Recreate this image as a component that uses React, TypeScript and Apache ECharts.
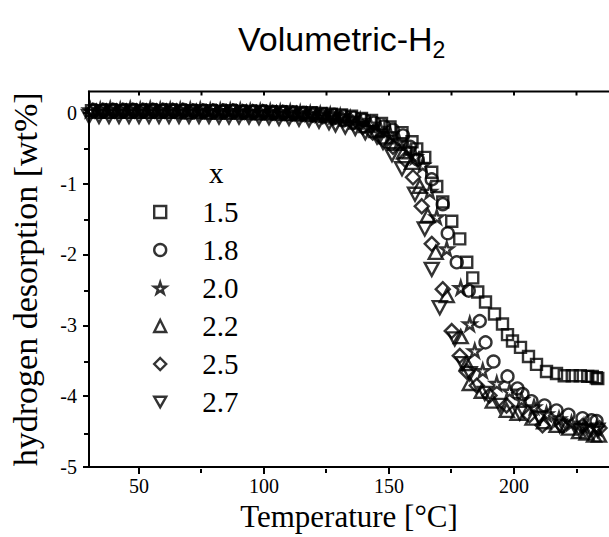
import React, { useEffect, useRef } from 'react';
import * as echarts from 'echarts';

const seriesNames = ['1.5', '1.8', '2.0', '2.2', '2.5', '2.7'];
const legendTitle = 'x';
const xMajorTicks = [50, 100, 150, 200];
const xMinorTicks = [75, 125, 175, 225];
const xTopTicks = [50, 75, 100, 125, 150, 175, 200, 225];
const yMajorTicks = [-5, -4, -3, -2, -1, 0];
const yMinorTicks = [-4.5, -3.5, -2.5, -1.5, -0.5];
const xMin = 30;
const xMax = 238;
const yMin = -5;
const yTop = 0.3;

const x15: [number, number][] = [
  [31, 0.03], [35, 0.03], [39, 0.04], [43, 0.03], [47, 0.04], [51, 0.03], [55, 0.04], [59, 0.03], [63, 0.04], [67, 0.03],
  [71, 0.03], [75, 0.03], [79, 0.03], [83, 0.02], [87, 0.03], [91, 0.02], [95, 0.02], [99, 0.02], [103, 0.01], [107, 0.01],
  [111, 0.01], [115, 0.0], [119, 0.0], [123, -0.01], [127, -0.02], [131, -0.03], [135, -0.05], [139, -0.08], [143, -0.11], [147, -0.15],
  [150.4, -0.2], [155.2, -0.28], [159.2, -0.41], [161.1, -0.51], [164.3, -0.63], [167.1, -0.84], [169.1, -1.04], [171.5, -1.26], [175.1, -1.53], [178.3, -1.78],
  [181.1, -2.11], [183.5, -2.33], [185.5, -2.53], [188.6, -2.67], [192.2, -2.84], [195.4, -2.98], [197.4, -3.13], [199.4, -3.22], [202.6, -3.31], [205.8, -3.44],
  [209, -3.55], [213, -3.65], [217, -3.68], [220.1, -3.71], [223.3, -3.71], [226.5, -3.71], [229.5, -3.72], [231.3, -3.72], [232.9, -3.74], [233.5, -3.75],
];

const x18: [number, number][] = [
  [32, 0.04], [36, 0.04], [40, 0.04], [44, 0.04], [48, 0.04], [52, 0.04], [56, 0.04], [60, 0.04], [64, 0.03], [68, 0.04],
  [72, 0.03], [76, 0.03], [80, 0.03], [84, 0.03], [88, 0.03], [92, 0.02], [96, 0.02], [100, 0.02], [104, 0.01], [108, 0.01],
  [112, 0.0], [116, 0.0], [120, -0.01], [124, -0.02], [128, -0.03], [132, -0.05], [136, -0.07], [140, -0.1], [144, -0.14], [148, -0.19],
  [151.5, -0.24], [155.6, -0.32], [158.4, -0.48], [161.5, -0.66], [167.1, -0.94], [171.5, -1.29], [173.5, -1.7], [177.1, -2.11], [181.9, -2.51], [186.3, -2.94],
  [188.6, -3.24], [191.8, -3.51], [197.4, -3.72], [201.4, -3.89], [203.4, -3.97], [207, -4.07], [212.2, -4.13], [217, -4.2], [221.8, -4.26], [227.4, -4.31],
  [231, -4.34], [233, -4.35],
];

const x20: [number, number][] = [
  [30.5, 0.04], [34.5, 0.04], [38.5, 0.05], [42.5, 0.04], [46.5, 0.05], [50.5, 0.04], [54.5, 0.05], [58.5, 0.04], [62.5, 0.04], [66.5, 0.04],
  [70.5, 0.04], [74.5, 0.04], [78.5, 0.03], [82.5, 0.03], [86.5, 0.03], [90.5, 0.03], [94.5, 0.02], [98.5, 0.02], [102.5, 0.02], [106.5, 0.01],
  [110.5, 0.01], [114.5, 0.0], [118.5, -0.01], [122.5, -0.02], [126.5, -0.03], [130.5, -0.05], [134.5, -0.08], [138.5, -0.11], [142.5, -0.16], [146.5, -0.22],
  [150.5, -0.3], [154, -0.4], [157.6, -0.52], [160.5, -0.62], [163.5, -0.74], [166.3, -1.11], [169.1, -1.47], [173.1, -1.92], [178.7, -2.47], [182.3, -2.98],
  [184.3, -3.36], [187.5, -3.64], [193.1, -3.82], [198.2, -3.93], [203, -4.05], [208, -4.15], [213, -4.25], [218, -4.32], [223, -4.38], [228, -4.42],
  [233, -4.45],
];

const x22: [number, number][] = [
  [33, 0.02], [37, 0.02], [41, 0.02], [45, 0.02], [49, 0.02], [53, 0.02], [57, 0.02], [61, 0.02], [65, 0.02], [69, 0.01],
  [73, 0.02], [77, 0.01], [81, 0.01], [85, 0.01], [89, 0.01], [93, 0.01], [97, 0.0], [101, 0.0], [105, 0.0], [109, -0.01],
  [113, -0.01], [117, -0.02], [121, -0.03], [125, -0.04], [129, -0.06], [133, -0.09], [137, -0.13], [141, -0.18], [145, -0.25], [149, -0.34],
  [152.5, -0.43], [156, -0.55], [159.2, -0.7], [162.3, -1.04], [165.5, -1.45], [168.7, -1.97], [173.1, -2.58], [178.7, -3.16], [181.1, -3.54], [182.3, -3.82],
  [187.1, -3.93], [191.5, -4.07], [197.1, -4.2], [201.4, -4.24], [207.4, -4.31], [212, -4.36], [217, -4.41], [222, -4.45], [226, -4.5], [229, -4.52],
  [232, -4.55], [234, -4.55],
];

const x25: [number, number][] = [
  [31.5, 0.03], [35.5, 0.03], [39.5, 0.03], [43.5, 0.03], [47.5, 0.03], [51.5, 0.03], [55.5, 0.03], [59.5, 0.03], [63.5, 0.03], [67.5, 0.03],
  [71.5, 0.02], [75.5, 0.02], [79.5, 0.02], [83.5, 0.02], [87.5, 0.02], [91.5, 0.01], [95.5, 0.01], [99.5, 0.01], [103.5, 0.0], [107.5, 0.0],
  [111.5, -0.01], [115.5, -0.02], [119.5, -0.03], [123.5, -0.05], [127.5, -0.07], [131.5, -0.1], [135.5, -0.14], [139.5, -0.2], [143.5, -0.28], [147.5, -0.37],
  [151.6, -0.48], [156.4, -0.66], [159.6, -0.91], [163.1, -1.32], [167.1, -1.85], [171.5, -2.49], [175.1, -3.08], [178.3, -3.43], [181.1, -3.65], [185.1, -3.85],
  [190.2, -3.99], [197, -4.13], [206.2, -4.27], [211.4, -4.41], [219.4, -4.42], [227.4, -4.42], [234.2, -4.45],
];

const x27: [number, number][] = [
  [30, -0.05], [34, -0.05], [38, -0.05], [42, -0.05], [46, -0.05], [50, -0.05], [54, -0.05], [58, -0.05], [62, -0.05], [66, -0.05],
  [70, -0.05], [74, -0.05], [78, -0.05], [82, -0.06], [86, -0.06], [90, -0.06], [94, -0.06], [98, -0.07], [102, -0.07], [106, -0.08],
  [110, -0.08], [114, -0.09], [118, -0.1], [122, -0.12], [126, -0.14], [128.6, -0.17], [132.5, -0.2], [136.5, -0.22], [140.5, -0.28], [145.2, -0.34],
  [147.6, -0.42], [151.2, -0.59], [155.2, -0.79], [160.4, -1.15], [164.3, -1.64], [167.1, -2.21], [170.3, -2.75], [176.3, -3.19], [179.5, -3.54], [182.3, -3.68],
  [188.3, -3.96], [194.3, -4.13], [202.3, -4.24], [210.3, -4.31], [218.3, -4.42], [226.2, -4.48], [230, -4.5], [233.4, -4.48],
];

const seriesData = [x15, x18, x20, x22, x25, x27];

const STAR = 'path://M50,0 L61,35 L98,35 L68,57 L79,91 L50,70 L21,91 L32,57 L2,35 L39,35 Z';
const DOWN_TRI = 'path://M0,0 L100,0 L50,87 Z';
const symbols = ['rect', 'circle', STAR, 'triangle', 'diamond', DOWN_TRI];
const symbolSizes: (number | number[])[] = [11, 12, 13, [14, 13], 14, [14, 13]];

const SERIF = 'Liberation Serif';
const SANS = 'Liberation Sans';

export default function App() {
  const ref = useRef<HTMLDivElement>(null);
  useEffect(() => {
    if (!ref.current) return;
    const chart = echarts.init(ref.current, null, { renderer: 'svg' });
    const xRange = { type: 'value', min: xMin, max: xMax, splitLine: { show: false } };
    const yRange = { type: 'value', min: yMin, max: yTop, splitLine: { show: false } };
    const tickStyle = { color: '#000', width: 2 };
    const legendHeader = {
      id: 'legendHeader',
      type: 'text',
      left: 209,
      top: 158,
      style: { text: legendTitle, fontFamily: SERIF, fontSize: 29, fill: '#000' },
    };
    const option: any = {
      animation: false,
      backgroundColor: '#fff',
      title: {
        text: '{a|Volumetric-H}{b|2}',
        left: 233,
        top: 12,
        textStyle: {
          fontWeight: 'normal',
          rich: {
            a: { fontFamily: SANS, fontSize: 34, fontWeight: 'normal', color: '#000', lineHeight: 44 },
            b: { fontFamily: SANS, fontSize: 23, fontWeight: 'normal', color: '#000', lineHeight: 18, verticalAlign: 'bottom' },
          },
        },
      },
      graphic: [legendHeader],
      legend: {
        orient: 'vertical',
        left: 153,
        top: 197,
        padding: 0,
        itemWidth: 12,
        itemHeight: 12,
        itemGap: 8,
        data: seriesNames,
        itemStyle: { color: 'rgba(0,0,0,0)', borderColor: '#000', borderWidth: 2.4 },
        textStyle: { fontFamily: SERIF, fontSize: 29, color: '#000', lineHeight: 30, padding: [0, 0, 0, 31] },
      },
      grid: [
        { left: 88, right: 0, top: 91.5, bottom: 68 },
        { left: 88, right: 0, top: 91.5, bottom: 68 },
      ],
      xAxis: [
        {
          ...xRange,
          gridIndex: 0,
          position: 'bottom',
          axisLine: { show: true, onZero: false, lineStyle: { color: '#000', width: 2 } },
          axisTick: { show: true, customValues: xMajorTicks, length: 7, lineStyle: tickStyle },
          axisLabel: { customValues: xMajorTicks, fontFamily: SERIF, fontSize: 20, color: '#000', margin: 9 },
          name: 'Temperature [°C]',
          nameLocation: 'middle',
          nameGap: 31,
          nameTextStyle: { fontFamily: SERIF, fontSize: 31, color: '#000' },
        },
        {
          ...xRange,
          gridIndex: 1,
          position: 'bottom',
          axisLine: { show: false, onZero: false },
          axisTick: { show: true, customValues: xMinorTicks, length: 4, lineStyle: tickStyle },
          axisLabel: { show: false },
        },
      ],
      yAxis: [
        {
          ...yRange,
          gridIndex: 0,
          position: 'left',
          axisLine: { show: true, onZero: false, lineStyle: { color: '#000', width: 2 } },
          axisTick: { show: true, customValues: yMajorTicks, length: 6, lineStyle: tickStyle },
          axisLabel: { customValues: yMajorTicks, fontFamily: SERIF, fontSize: 20, color: '#000', margin: 12 },
          name: 'hydrogen desorption [wt%]',
          nameLocation: 'middle',
          nameGap: 47,
          nameTextStyle: { fontFamily: SERIF, fontSize: 34, color: '#000' },
        },
        {
          ...yRange,
          gridIndex: 1,
          position: 'left',
          axisLine: { show: false, onZero: false },
          axisTick: { show: true, customValues: yMinorTicks, length: 4, lineStyle: tickStyle },
          axisLabel: { show: false },
        },
      ],
      series: seriesNames.map((name, i) => ({
        name,
        type: 'scatter',
        xAxisIndex: 0,
        yAxisIndex: 0,
        data: seriesData[i],
        symbol: symbols[i],
        symbolSize: symbolSizes[i],
        itemStyle: { color: 'rgba(0,0,0,0)', borderColor: '#000', borderWidth: 2.4 },
        emphasis: { disabled: true },
      })),
    };
    chart.setOption(option);

    // Top frame line and inward ticks, positioned through the chart's own scales.
    const yPx = chart.convertToPixel({ yAxisIndex: 0 }, yTop) as number;
    const xStart = chart.convertToPixel({ xAxisIndex: 0 }, xMin) as number;
    const xEnd = chart.convertToPixel({ xAxisIndex: 0 }, xMax) as number;
    if (isFinite(yPx) && isFinite(xStart) && isFinite(xEnd)) {
      const frame: any[] = [
        {
          id: 'topFrame',
          type: 'line',
          z: 100,
          silent: true,
          shape: { x1: xStart - 1, y1: yPx, x2: xEnd + 2, y2: yPx },
          style: { stroke: '#000', lineWidth: 2 },
        },
        ...xTopTicks.map((t, k) => {
          const px = chart.convertToPixel({ xAxisIndex: 0 }, t) as number;
          return {
            id: 'topTick' + k,
            type: 'line',
            z: 100,
            silent: true,
            shape: { x1: px, y1: yPx, x2: px, y2: yPx + 4 },
            style: { stroke: '#000', lineWidth: 2 },
          };
        }),
      ];
      chart.setOption({ graphic: [legendHeader, ...frame] });
    }
    return () => chart.dispose();
  }, []);
  return <div ref={ref} style={{ position: 'fixed', left: 0, top: 0, width: 609, height: 537 }} />;
}
